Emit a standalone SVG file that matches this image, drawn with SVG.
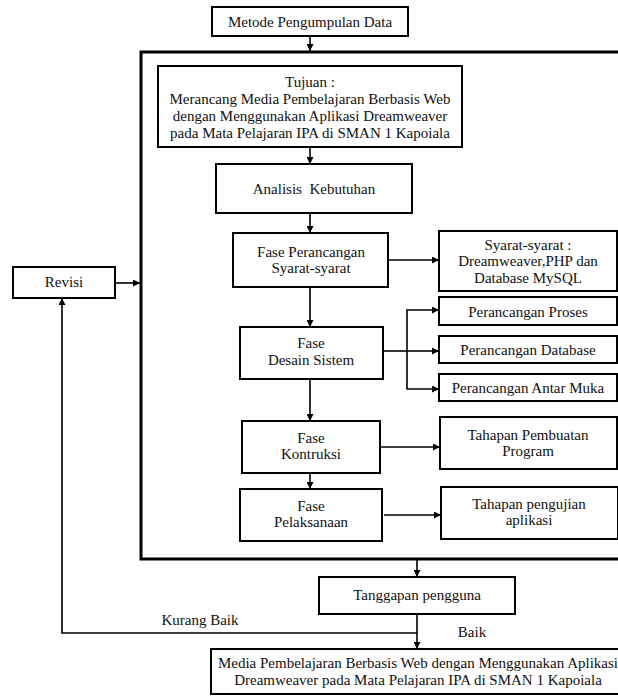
<svg xmlns="http://www.w3.org/2000/svg" width="618" height="696" viewBox="0 0 618 696">
<style>
.box{fill:#fff;stroke:#000;stroke-width:2}
.t{font-family:"Liberation Serif","Times New Roman",serif;font-size:15px;fill:#111;text-anchor:middle;white-space:pre}
.ln{fill:none;stroke:#000;stroke-width:1.6}
.arr{fill:none;stroke:#000;stroke-width:1.6;marker-end:url(#ah)}
.frame{fill:none;stroke:#000;stroke-width:3}
</style>
<defs>
<marker id="ah" viewBox="0 0 10 10" refX="10" refY="5" markerWidth="8" markerHeight="7" markerUnits="userSpaceOnUse" orient="auto">
<path d="M0,0 L10,5 L0,10 z" fill="#000"/>
</marker>
</defs>
<rect width="618" height="696" fill="#fff"/>
<path class="frame" d="M620,52 H141 V559 H620"/>
<g id="connectors">
<line class="arr" x1="310" y1="36" x2="310" y2="51"/>
<line class="arr" x1="310" y1="147" x2="310" y2="164"/>
<line class="arr" x1="310" y1="213" x2="310" y2="233"/>
<line class="arr" x1="388" y1="260" x2="439" y2="260"/>
<line class="arr" x1="310" y1="287" x2="310" y2="327"/>
<line class="ln" x1="383" y1="351" x2="407" y2="351"/>
<line class="arr" x1="407" y1="351" x2="439" y2="351"/>
<polyline class="arr" points="407,351 407,310 439,310"/>
<polyline class="arr" points="407,351 407,389 439,389"/>
<line class="arr" x1="310" y1="379" x2="310" y2="421"/>
<line class="arr" x1="380" y1="447" x2="440" y2="447"/>
<line class="arr" x1="310" y1="473" x2="310" y2="489"/>
<line class="arr" x1="384" y1="515" x2="441" y2="515"/>
<line class="arr" x1="417" y1="560" x2="417" y2="577"/>
<line class="arr" x1="417" y1="614" x2="417" y2="649"/>
<polyline class="arr" points="417,633 62,633 62,298"/>
<line class="arr" x1="115" y1="283" x2="140" y2="283"/>
<text class="t" x="200" y="625">Kurang Baik</text>
<text class="t" x="472" y="637">Baik</text>
</g>
<g id="metode">
<rect class="box" x="212" y="7" width="196" height="29"/>
<text class="t" x="310" y="27">Metode Pengumpulan Data</text>
</g>
<g id="tujuan">
<rect class="box" x="158" y="66" width="304" height="81"/>
<text class="t" x="310" y="87">Tujuan :</text>
<text class="t" x="310" y="104">Merancang Media Pembelajaran Berbasis Web</text>
<text class="t" x="310" y="121">dengan Menggunakan Aplikasi Dreamweaver</text>
<text class="t" x="310" y="138">pada Mata Pelajaran IPA di SMAN 1 Kapoiala</text>
</g>
<g id="analisis">
<rect class="box" x="216" y="164" width="196" height="49"/>
<text class="t" x="314" y="194">Analisis  Kebutuhan</text>
</g>
<g id="fase-perancangan">
<rect class="box" x="233" y="233" width="155" height="54"/>
<text class="t" x="311" y="257">Fase Perancangan</text>
<text class="t" x="311" y="273">Syarat-syarat</text>
</g>
<g id="syarat">
<rect class="box" x="439" y="231" width="178" height="60"/>
<text class="t" x="528" y="250">Syarat-syarat :</text>
<text class="t" x="528" y="266">Dreamweaver,PHP dan</text>
<text class="t" x="528" y="283">Database MySQL</text>
</g>
<g id="revisi">
<rect class="box" x="13" y="267" width="102" height="31"/>
<text class="t" x="64" y="287">Revisi</text>
</g>
<g id="perancangan-proses">
<rect class="box" x="439" y="297" width="178" height="28"/>
<text class="t" x="528" y="317">Perancangan Proses</text>
</g>
<g id="perancangan-database">
<rect class="box" x="439" y="336" width="178" height="27"/>
<text class="t" x="528" y="355">Perancangan Database</text>
</g>
<g id="perancangan-antar-muka">
<rect class="box" x="439" y="374" width="178" height="27"/>
<text class="t" x="528" y="393">Perancangan Antar Muka</text>
</g>
<g id="fase-desain">
<rect class="box" x="240" y="327" width="143" height="52"/>
<text class="t" x="311" y="348">Fase</text>
<text class="t" x="311" y="365">Desain Sistem</text>
</g>
<g id="fase-kontruksi">
<rect class="box" x="242" y="421" width="138" height="52"/>
<text class="t" x="311" y="443">Fase</text>
<text class="t" x="311" y="459">Kontruksi</text>
</g>
<g id="tahapan-pembuatan">
<rect class="box" x="440" y="417" width="177" height="52"/>
<text class="t" x="528" y="440">Tahapan Pembuatan</text>
<text class="t" x="528" y="456">Program</text>
</g>
<g id="fase-pelaksanaan">
<rect class="box" x="240" y="489" width="142" height="52"/>
<text class="t" x="311" y="511">Fase</text>
<text class="t" x="311" y="527">Pelaksanaan</text>
</g>
<g id="tahapan-pengujian">
<rect class="box" x="441" y="487" width="177" height="52"/>
<text class="t" x="529" y="509">Tahapan pengujian</text>
<text class="t" x="529" y="525">aplikasi</text>
</g>
<g id="tanggapan">
<rect class="box" x="319" y="577" width="196" height="37"/>
<text class="t" x="417" y="600">Tanggapan pengguna</text>
</g>
<g id="media">
<rect class="box" x="211" y="649" width="414" height="45"/>
<text class="t" x="418" y="668">Media Pembelajaran Berbasis Web dengan Menggunakan Aplikasi</text>
<text class="t" x="418" y="685">Dreamweaver pada Mata Pelajaran IPA di SMAN 1 Kapoiala</text>
</g>
</svg>
